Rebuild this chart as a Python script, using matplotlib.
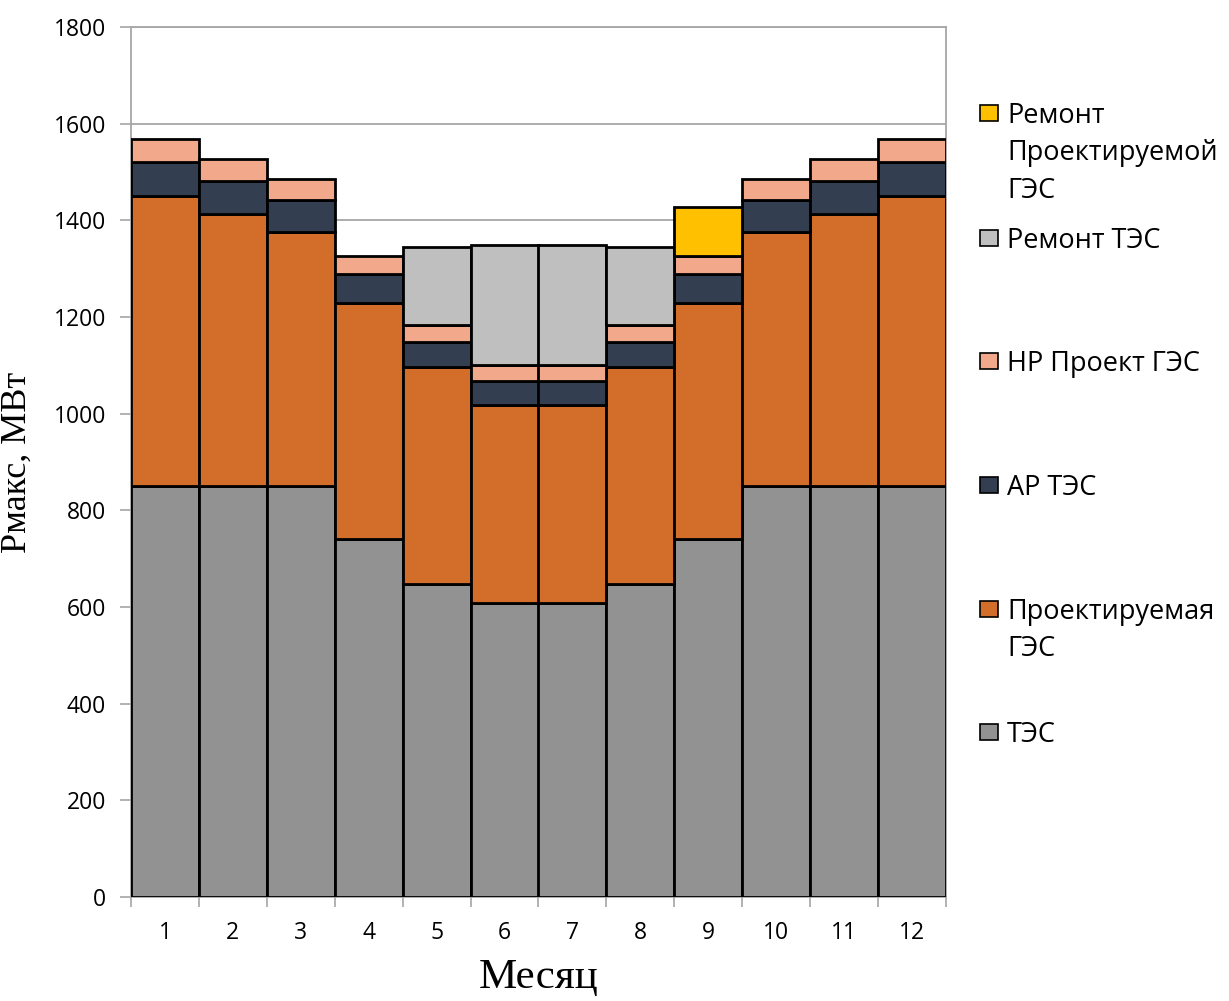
import numpy as np
import matplotlib.pyplot as plt
from matplotlib.patches import Rectangle

# данные по месяцам, МВт
months = np.arange(1, 13)
tes = [850, 850, 850, 741, 648, 608, 608, 648, 741, 850, 850, 850]
ges = [600, 563, 525, 488, 449, 410, 410, 449, 488, 525, 563, 600]
ar_tes = [70, 68, 68, 59, 51, 49, 49, 51, 59, 68, 68, 70]
nr_ges = [49, 46, 42, 39, 35, 33, 33, 35, 39, 42, 46, 49]
rem_tes = [0, 0, 0, 0, 161, 250, 250, 161, 0, 0, 0, 0]
rem_ges = [0, 0, 0, 0, 0, 0, 0, 0, 100, 0, 0, 0]

series = [
    ("ТЭС", tes, "#929292"),
    ("Проектируемая\nГЭС", ges, "#D36E2A"),
    ("АР ТЭС", ar_tes, "#333F50"),
    ("НР Проект ГЭС", nr_ges, "#F2A98B"),
    ("Ремонт ТЭС", rem_tes, "#BFBFBF"),
    ("Ремонт\nПроектируемой\nГЭС", rem_ges, "#FFC000"),
]

fig = plt.figure(figsize=(12.29, 10.01), dpi=100)
ax = fig.add_axes([131 / 1229, 104 / 1001, 815 / 1229, 870 / 1001])

bottom = np.zeros(len(months))
for name, vals, col in series:
    vals = np.array(vals, dtype=float)
    mask = vals > 0
    ax.bar(months[mask], vals[mask], width=1.0, bottom=bottom[mask],
           color=col, edgecolor="black", linewidth=2.0, zorder=3)
    bottom += vals

ax.set_xlim(0.5, 12.5)
ax.set_ylim(0, 1800)
ax.set_yticks(np.arange(0, 1801, 200))
ax.yaxis.grid(True, color="#A6A6A6", linewidth=1.3, zorder=0)
ax.set_axisbelow(True)

ax.set_xticks(months)
ax.set_xticklabels([str(m) for m in months], fontfamily="Open Sans", fontsize=16.5)
ax.set_xticks(np.arange(0.5, 13, 1), minor=True)
ax.tick_params(axis="x", which="major", length=0, pad=17)
ax.tick_params(axis="x", which="minor", length=7, color="#A6A6A6", width=1.2)
ax.tick_params(axis="y", length=8, color="#A6A6A6", width=1.2, pad=10)
for lab in ax.get_yticklabels():
    lab.set_fontfamily("Open Sans")
    lab.set_fontsize(16.5)

for sp in ax.spines.values():
    sp.set_color("#A6A6A6")
    sp.set_linewidth(1.3)

ax.set_xlabel("Месяц", fontfamily="Liberation Serif", fontsize=31, labelpad=10)
ax.set_ylabel("Рмакс, МВт", fontfamily="Liberation Serif", fontsize=26, labelpad=14)

# легенда справа, как в Excel
legend_y = [113, 238, 361, 485, 609, 732]
W, H = 1229, 1001
for (name, vals, col), yc in zip(reversed(series), legend_y):
    fig.add_artist(Rectangle((980 / W, (H - yc - 8) / H), 18 / W, 16 / H,
                             transform=fig.transFigure, facecolor=col,
                             edgecolor="black", linewidth=1.2))
    fig.text(1007 / W, (H - yc + 11) / H, name, fontfamily="Open Sans",
             fontsize=19.5, va="top", ha="left", linespacing=1.45)

fig.savefig("out.png", dpi=100)
